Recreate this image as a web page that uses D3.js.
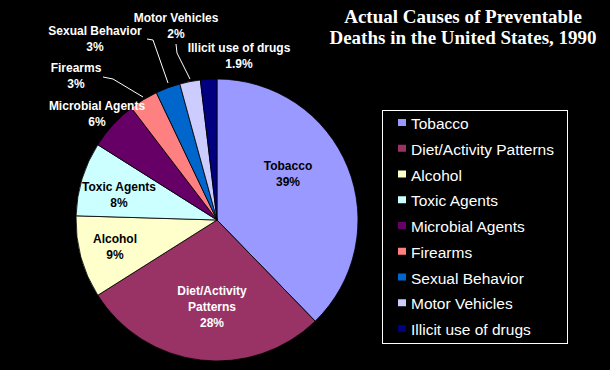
<!DOCTYPE html>
<html><head><meta charset="utf-8">
<script src="https://cdn.jsdelivr.net/npm/d3@7"></script>
<style>html,body{margin:0;padding:0;background:#000;}svg{display:block;}</style>
</head><body>
<script>
const categories = ["Tobacco","Diet/Activity Patterns","Alcohol","Toxic Agents","Microbial Agents","Firearms","Sexual Behavior","Motor Vehicles","Illicit use of drugs"];
const deaths = [400,300,100,90,60,35,30,25,20];
const pctLabels = ["39%","28%","9%","8%","6%","3%","3%","2%","1.9%"];
const colors = ["#9999FF","#993366","#FFFFCC","#CCFFFF","#660066","#FF8080","#0066CC","#CCCCFF","#000080"];
const sliceLabelLines = [["Tobacco"],["Diet/Activity","Patterns"],["Alcohol"],["Toxic Agents"],["Microbial Agents"],["Firearms"],["Sexual Behavior"],["Motor Vehicles"],["Illicit use of drugs"]];
const titleLines = ["Actual Causes of Preventable","Deaths in the United States, 1990"];

const W=610,H=370;
const svg=d3.select("body").append("svg").attr("width",W).attr("height",H);
svg.append("rect").attr("width",W).attr("height",H).attr("fill","#000");

const cx=217, cy=220, R=141;
const pie=d3.pie().sort(null).value(d=>d)(deaths);
const arc=d3.arc().innerRadius(0).outerRadius(R);
const g=svg.append("g").attr("transform",`translate(${cx},${cy})`);
g.selectAll("path").data(pie).join("path")
 .attr("d",arc).attr("fill",(d,i)=>colors[i]).attr("stroke","#000").attr("stroke-width",0.8);

// label placements
const labelPos=[[288,166],[212,291],[115,239],[119,187],[97,106],[76,68],[95,31],[176,18],[239,48]];
const labelColor=[ "#000","#fff","#000","#000","#fff","#fff","#fff","#fff","#fff"];
const lineH=16;
labelPos.forEach((p,i)=>{
  const lines=sliceLabelLines[i].concat([pctLabels[i]]);
  const t=svg.append("text").attr("x",p[0]).attr("y",p[1]+4)
   .attr("text-anchor","middle").attr("font-family","Liberation Sans, Arial, sans-serif")
   .attr("font-weight","bold").attr("font-size",12).attr("fill",labelColor[i]);
  lines.forEach((l,j)=>t.append("tspan").attr("x",p[0]).attr("dy",j===0?0:lineH).text(l));
});

// leader lines
const leaders=[
  [[103,77],[113,79],[143,97]],
  [[147,39],[153,40],[168,83]],
  [[176,44],[177,53],[190,79]]
];
leaders.forEach(pts=>{
  svg.append("path").attr("d",d3.line()(pts)).attr("fill","none").attr("stroke","#fff").attr("stroke-width",1);
});

// title
const tt=svg.append("text").attr("x",463).attr("y",23).attr("text-anchor","middle")
 .attr("font-family","Liberation Serif, Times New Roman, serif").attr("font-weight","bold")
 .attr("font-size",19).attr("fill","#fff");
titleLines.forEach((l,j)=>tt.append("tspan").attr("x",463).attr("dy",j===0?0:21).text(l));

// legend
const lg=svg.append("g");
lg.append("rect").attr("x",382.5).attr("y",110.5).attr("width",185).attr("height",233)
 .attr("fill","#000").attr("stroke","#fff").attr("stroke-width",1);
const ly=d3.scalePoint().domain(categories).range([124,330]);
categories.forEach((c,i)=>{
  const y=ly(c);
  lg.append("rect").attr("x",398).attr("y",y-5).attr("width",8).attr("height",7).attr("fill",colors[i]);
  lg.append("text").attr("x",411).attr("y",y+5).attr("font-family","Liberation Sans, Arial, sans-serif")
   .attr("font-size",15.5).attr("fill","#fff").text(c);
});
</script>
</body></html>
